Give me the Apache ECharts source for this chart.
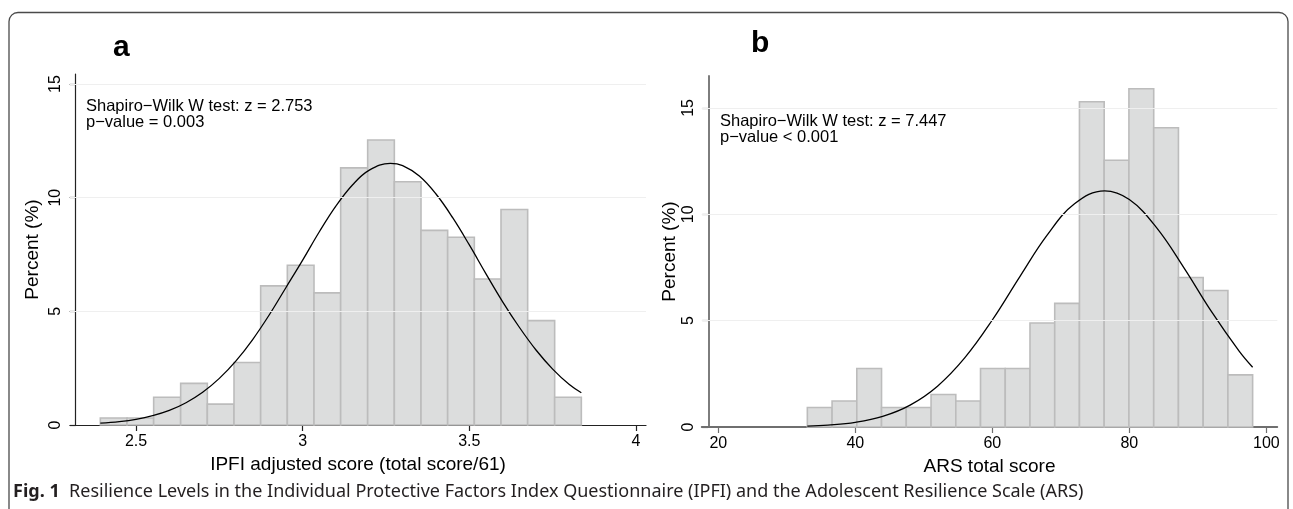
<!DOCTYPE html>
<html><head><meta charset="utf-8">
<script src="https://cdn.jsdelivr.net/npm/echarts@6/dist/echarts.min.js"></script>
<style>html,body{margin:0;padding:0;background:#fff}#c{width:1293px;height:509px}</style>
</head><body><div id="c"></div>
<script>
// ---- Panel a: IPFI ----
const ipfiBinEdges = [2.393, 2.473, 2.553, 2.634, 2.714, 2.794, 2.874, 2.954, 3.034, 3.114, 3.195, 3.275, 3.355, 3.435, 3.515, 3.595, 3.675, 3.756, 3.836];
const ipfiPercent  = [0.31, 0.31, 1.22, 1.83, 0.92, 2.75, 6.12, 7.03, 5.81, 11.31, 12.54, 10.70, 8.56, 8.26, 6.42, 9.48, 4.59, 1.22];
const ipfiCurveX = [2.393, 2.45, 2.5, 2.55, 2.6, 2.65, 2.7, 2.75, 2.8, 2.85, 2.9, 2.95, 3.0, 3.05, 3.1, 3.15, 3.2, 3.263, 3.3, 3.35, 3.4, 3.45, 3.5, 3.55, 3.6, 3.65, 3.7, 3.75, 3.8, 3.836];
const ipfiCurveY = [0.08, 0.15, 0.25, 0.41, 0.64, 0.98, 1.44, 2.05, 2.82, 3.76, 4.85, 6.05, 7.25, 8.50, 9.64, 10.57, 11.21, 11.51, 11.41, 10.95, 10.16, 9.12, 7.92, 6.65, 5.42, 4.30, 3.30, 2.46, 1.78, 1.42];
const ipfiTicks = [2.5, 3, 3.5, 4];

// ---- Panel b: ARS ----
const arsBinEdges = [33.0, 36.61, 40.22, 43.83, 47.44, 51.06, 54.67, 58.28, 61.89, 65.5, 69.11, 72.72, 76.33, 79.94, 83.56, 87.17, 90.78, 94.39, 98.0];
const arsPercent  = [0.92, 1.22, 2.75, 0.92, 0.92, 1.53, 1.22, 2.75, 2.75, 4.89, 5.81, 15.29, 12.54, 15.90, 14.07, 7.03, 6.42, 2.45];
const arsCurveX = [33, 36, 40, 44, 48, 52, 56, 60, 64, 68, 72, 76.4, 80, 84, 88, 92, 96, 98];
const arsCurveY = [0.04, 0.09, 0.22, 0.50, 1.03, 1.92, 3.26, 5.03, 7.06, 9.02, 10.49, 11.10, 10.69, 9.36, 7.47, 5.42, 3.58, 2.81];
const arsTicks = [20, 40, 60, 80, 100];

const percentTicks = [0, 5, 10, 15];
const percentGrid = [5, 10, 15];

const FONT = '"Liberation Sans", Arial, Helvetica, sans-serif';
const CAPFONT = '"Noto Sans", sans-serif';

function histData(edges, pct) {
  return pct.map((p, i) => [edges[i], edges[i + 1], p]);
}
function zip(xs, ys) { return xs.map((x, i) => [x, ys[i]]); }

function renderBar(params, api) {
  const a = api.coord([api.value(0), api.value(2)]);
  const b = api.coord([api.value(1), 0]);
  return {
    type: 'rect',
    shape: { x: a[0], y: a[1], width: b[0] - a[0], height: b[1] - a[1] },
    style: { fill: '#dcdddd', stroke: '#bcbcbc', lineWidth: 1.6 }
  };
}

function xAxisCfg(gridIndex, min, max, ticks, name, axisColor, axisWidth) {
  return {
    type: 'value', gridIndex, min, max,
    name, nameLocation: 'middle', nameGap: 25,
    nameTextStyle: { fontFamily: FONT, fontSize: 19, color: '#000' },
    axisLine: { show: true, onZero: false, lineStyle: { color: axisColor, width: axisWidth } },
    axisTick: { show: true, length: 6, customValues: ticks, lineStyle: { color: axisColor, width: 1.2 } },
    axisLabel: { customValues: ticks, margin: 9, fontFamily: FONT, fontSize: 16, color: '#000',
                 formatter: v => String(v) },
    splitLine: { show: false }
  };
}
function yAxisCfg(gridIndex, max, axisColor, axisWidth, nameGap, offset) {
  return {
    type: 'value', gridIndex, min: 0, max, offset,
    name: 'Percent (%)', nameLocation: 'middle', nameGap, nameRotate: 90,
    nameTextStyle: { fontFamily: FONT, fontSize: 19, color: '#000' },
    axisLine: { show: true, onZero: false, lineStyle: { color: axisColor, width: axisWidth } },
    axisTick: { show: true, length: 6, customValues: percentTicks, lineStyle: { color: axisColor, width: 1.2 } },
    axisLabel: { customValues: percentTicks, rotate: 90, margin: 12, fontFamily: FONT, fontSize: 16, color: '#000' },
    splitLine: { show: false }
  };
}

function gridSeries(idx) {
  return {
    type: 'line', xAxisIndex: idx, yAxisIndex: idx, data: [], z: 1, silent: true,
    markLine: {
      silent: true, symbol: ['none', 'none'], label: { show: false },
      lineStyle: { color: '#efefef', type: 'solid', width: 1.2 },
      data: percentGrid.map(v => ({ yAxis: v }))
    }
  };
}

const chart = echarts.init(document.getElementById('c'), null, { renderer: 'canvas' });
chart.setOption({
  animation: false,
  backgroundColor: '#fff',
  grid: [
    { left: 70, top: 74, width: 576, height: 351 },
    { left: 701.7, top: 76, width: 575.6, height: 351 }
  ],
  xAxis: [
    xAxisCfg(0, 2.302, 4.03, ipfiTicks, 'IPFI adjusted score (total score/61)', '#222', 1.2),
    xAxisCfg(1, 17.58, 101.6, arsTicks, 'ARS total score', '#6f6f6f', 1.8)
  ],
  yAxis: [
    yAxisCfg(0, 15.44, '#222', 1.2, 33, -5.7),
    yAxisCfg(1, 16.5, '#6f6f6f', 1.8, 28, -6.6)
  ],
  series: [
    gridSeries(0),
    gridSeries(1),
    { type: 'custom', xAxisIndex: 0, yAxisIndex: 0, z: 2, renderItem: renderBar,
      encode: { x: [0, 1], y: 2 }, data: histData(ipfiBinEdges, ipfiPercent) },
    { type: 'custom', xAxisIndex: 1, yAxisIndex: 1, z: 2, renderItem: renderBar,
      encode: { x: [0, 1], y: 2 }, data: histData(arsBinEdges, arsPercent) },
    { type: 'line', xAxisIndex: 0, yAxisIndex: 0, z: 3, smooth: 0.4, showSymbol: false, silent: true,
      lineStyle: { color: '#000', width: 1.3 }, data: zip(ipfiCurveX, ipfiCurveY) },
    { type: 'line', xAxisIndex: 1, yAxisIndex: 1, z: 3, smooth: 0.4, showSymbol: false, silent: true,
      lineStyle: { color: '#000', width: 1.3 }, data: zip(arsCurveX, arsCurveY) }
  ],
  graphic: [
    { type: 'rect', z: 0, silent: true,
      shape: { x: 9, y: 12.5, width: 1279, height: 620, r: 9 },
      style: { fill: 'none', stroke: '#4a4a4a', lineWidth: 1.3 } },
    { type: 'text', x: 113, y: 48, style: { text: 'a', font: 'bold 30px ' + FONT, fill: '#000', verticalAlign: 'middle' } },
    { type: 'text', x: 751, y: 44, style: { text: 'b', font: 'bold 30px ' + FONT, fill: '#000', verticalAlign: 'middle' } },
    { type: 'text', x: 86, y: 106, style: { text: 'Shapiro\u2212Wilk W test: z = 2.753', font: '16.5px ' + FONT, fill: '#000', verticalAlign: 'middle' } },
    { type: 'text', x: 86, y: 122, style: { text: 'p\u2212value = 0.003', font: '16.5px ' + FONT, fill: '#000', verticalAlign: 'middle' } },
    { type: 'text', x: 720, y: 121, style: { text: 'Shapiro\u2212Wilk W test: z = 7.447', font: '16.5px ' + FONT, fill: '#000', verticalAlign: 'middle' } },
    { type: 'text', x: 720, y: 137, style: { text: 'p\u2212value < 0.001', font: '16.5px ' + FONT, fill: '#000', verticalAlign: 'middle' } },
    { type: 'text', x: 13, y: 492, style: {
        text: '{b|Fig. 1}  Resilience Levels in the Individual Protective Factors Index Questionnaire (IPFI) and the Adolescent Resilience Scale (ARS)',
        font: '18px ' + CAPFONT, fill: '#231f20', verticalAlign: 'middle',
        rich: { b: { fontWeight: 'bold', fontSize: 18, fontFamily: CAPFONT, fill: '#231f20' } } } }
  ]
});
</script></body></html>
